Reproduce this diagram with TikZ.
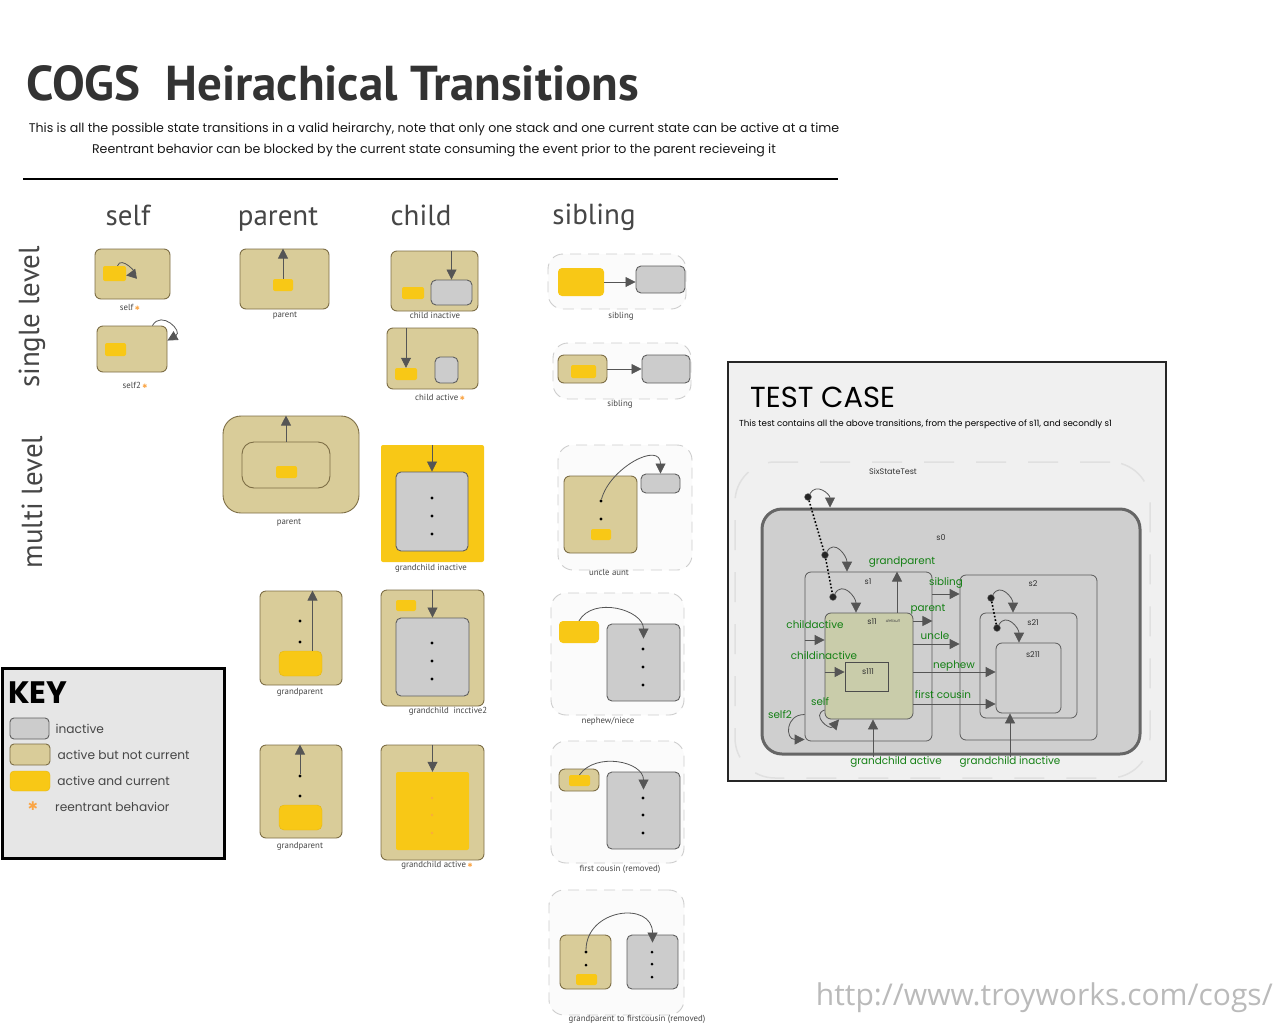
\documentclass[tikz,border=0pt]{standalone}
\usepackage{fontspec}
\setmainfont{PT Sans}
\newfontfamily\geo{Poppins}
\newfontfamily\symf{DejaVu Sans}
\newfontfamily\urlf{Open Sans}
\usepackage{tikz}
\usetikzlibrary{arrows.meta,positioning,fit,calc}
\definecolor{tanfill}{RGB}{217,204,153}
\definecolor{tanline}{RGB}{125,110,70}
\definecolor{gold}{RGB}{248,200,22}
\definecolor{goldline}{RGB}{228,182,20}
\definecolor{inact}{RGB}{204,204,204}
\definecolor{inactline}{RGB}{95,95,95}
\definecolor{arr}{RGB}{85,85,85}
\definecolor{dashc}{RGB}{205,205,205}
\definecolor{grpfill}{RGB}{251,251,251}
\definecolor{keybg}{RGB}{230,230,230}
\definecolor{testbg}{RGB}{240,240,240}
\definecolor{s0fill}{RGB}{207,207,207}
\definecolor{s11fill}{RGB}{201,204,170}
\definecolor{trgreen}{RGB}{20,128,20}
\definecolor{star}{RGB}{250,165,70}
\definecolor{textc}{RGB}{70,70,70}
\newcommand\sz[1]{\fontsize{#1}{#1}\selectfont}
\newcommand\rent{\,{\color{star}\symf\sz{6}✱}}

\begin{document}
\begin{tikzpicture}[x=1pt,y=-1pt,inner sep=0pt,
  tan/.style={draw=tanline,fill=tanfill,line width=0.9pt,rounded corners=6pt},
  cur/.style={fill=gold,rounded corners=2pt},
  ina/.style={draw=inactline,fill=inact,line width=0.9pt,rounded corners=5pt},
  grp/.style={draw=dashc,fill=grpfill,line width=0.9pt,dash pattern=on 11pt off 7pt,rounded corners=15pt},
  tr/.style={draw=arr,line width=0.8pt,-{Triangle[length=10pt,width=10pt]}},
  dot/.style={circle,fill=black,minimum size=3.2pt},
  lbl/.style={font=\sz{8.8},text=textc},
  hd/.style={font=\sz{29},text=textc,anchor=base},
  st/.style={draw=gray!70!black,line width=0.8pt,rounded corners=6pt},
  sl/.style={font=\geo\sz{8},text=black!80},
  gl/.style={font=\geo\sz{10.4},text=trgreen},
  ini/.style={circle,fill=black!85,draw=gray,minimum size=7pt},
  kt/.style={font=\geo\sz{12.2},text=textc,anchor=west}]
\useasboundingbox (0,0) rectangle (1286,1026);

% heading
\node[anchor=base west,font=\bfseries\sz{49},text=black!80] (title) at (26,100) {COGS\ \ Heirachical Transitions};
\node[font=\geo\sz{12.6},text=black!90] (sub1) at (434,129) {This is all the possible state transitions in a valid heirarchy, note that only one stack and one current state can be active at a time};
\node[font=\geo\sz{12.6},text=black!90] (sub2) at (434,150) {Reentrant behavior can be blocked by the current state consuming the event prior to the parent recieveing it};
\draw[line width=1.5pt] (23,179) -- (838,179);

\node[hd] (hself) at (128,225) {self};
\node[hd] (hpar) at (278,225) {parent};
\node[hd] (hchi) at (421,225) {child};
\node[hd] (hsib) at (594,224) {sibling};
\node[font=\sz{29},text=textc,rotate=90] (rsingle) at (32,317) {single level};
\node[font=\sz{29},text=textc,rotate=90] (rmulti) at (32,502) {multi level};

% self
\node[tan,fit={(95,249)(170,299)}] (slf) {};
\node[cur,fit={(103,266)(126,281)}] (slfc) {};
\draw[tr] ([xshift=3pt]slfc.north) to[out=70,in=10,looseness=2.2] ([yshift=-2pt]slfc.east);
\node[lbl] (cslf) at (130,307) {self\rent};
\node[tan,fit={(97,326)(167,372)}] (slf2) {};
\node[cur,fit={(105,343)(126,356)}] (slf2c) {};
\draw[tr] ([xshift=-15pt]slf2.north east) to[out=60,in=30,looseness=2.2] ([yshift=-15pt]slf2.north east);
\node[lbl] (cslf2) at (135,385) {self2\rent};

% parent
\node[tan,fit={(240,249)(329,309)}] (par) {};
\node[cur,fit={(273,279)(293,291)}] (parc) {};
\draw[tr] (parc.north) -- (parc.north |- par.north);
\node[lbl] (cpar) at (285,316) {parent};

% child
\node[tan,fit={(391,251)(478,311)}] (chi) {};
\node[cur,fit={(402,287)(424,299)}] (chic) {};
\node[ina,fit={(431,280)(472,305)}] (chig) {};
\draw[tr] (chig.north |- chi.north) -- (chig.north);
\node[lbl] (cchi) at (435,315) {child inactive};
\node[tan,fit={(387,328)(478,389)}] (cha) {};
\node[cur,fit={(395,368)(417,380)}] (chac) {};
\node[ina,fit={(435,357)(458,383)}] (chag) {};
\draw[tr] (chac.north |- cha.north) -- (chac.north);
\node[lbl] (ccha) at (440,397) {child active\rent};

% sibling
\node[grp,fit={(548,254)(686,309)}] (sib) {};
\node[cur,rounded corners=4pt,fit={(558,268)(604,296)}] (sibc) {};
\node[ina,fit={(636,266)(685,293)}] (sibg) {};
\draw[tr] (sibc.east) -- (sibc.east -| sibg.west);
\node[lbl] (csib) at (621,316) {sibling};
\node[grp,fit={(553,343)(691,399)}] (sib2) {};
\node[tan,fit={(558,355)(607,383)}] (sib2t) {};
\node[cur,fit={(571,365)(596,378)}] (sib2c) {};
\node[ina,fit={(642,355)(690,383)}] (sib2g) {};
\draw[tr] (sib2t) -- (sib2g);
\node[lbl] (csib2) at (620,404) {sibling};

% multi level parent
\node[tan,rounded corners=18pt,fit={(223,416)(359,513)}] (mpar) {};
\node[tan,rounded corners=12pt,fit={(242,442)(330,488)}] (mpari) {};
\node[cur,fit={(276,466)(297,478)}] (mparc) {};
\draw[tr] (mpari.north) -- (mpari.north |- mpar.north);
\node[lbl] (cmpar) at (289,523) {parent};

% grandchild inactive
\node[cur,fit={(381,445)(484,562)}] (gci) {};
\node[ina,fit={(396,472)(468,551)}] (gcig) {};
\draw[tr] (gcig.north |- gci.north) -- (gcig.north);
\foreach \y in {498,516,534} \fill (432,\y) circle (1.6pt);
\node[lbl] (cgci) at (431,568) {grandchild inactive};

% grandparent
\node[tan,fit={(260,591)(342,685)}] (gp1) {};
\node[cur,draw=goldline,rounded corners=5pt,fit={(279,651)(322,676)}] (gp1c) {};
\coordinate (gp1a) at ([xshift=12pt]gp1c.north);
\draw[tr] (gp1a) -- (gp1a |- gp1.north);
\foreach \y in {621,642} \fill (300,\y) circle (1.6pt);
\node[lbl] (cgp1) at (300,692) {grandparent};

% grandchild inactive 2
\node[tan,fit={(381,590)(484,706)}] (gci2) {};
\node[cur,fit={(396,600)(416,611)}] (gci2c) {};
\node[ina,fit={(396,618)(469,696)}] (gci2g) {};
\draw[tr] (gci2g.north |- gci2.north) -- (gci2g.north);
\foreach \y in {643,661,679} \fill (432,\y) circle (1.6pt);
\node[lbl] (cgci2) at (448,711) {grandchild\ \ incctive2};

% grandparent 2
\node[tan,fit={(260,745)(342,838)}] (gp2) {};
\node[cur,draw=goldline,rounded corners=5pt,fit={(279,805)(322,830)}] (gp2c) {};
\node[dot] (gp2d) at (300,776) {};
\fill (300,796) circle (1.6pt);
\draw[tr] (gp2d) -- (gp2d |- gp2.north);
\node[lbl] (cgp2) at (300,846) {grandparent};

% grandchild active
\node[tan,fit={(381,745)(484,860)}] (gca) {};
\node[cur,fit={(396,772)(469,850)}] (gcac) {};
\draw[tr] (gcac.north |- gca.north) -- (gcac.north);
\foreach \y in {798,815,833} \fill[star!80!gold] (432,\y) circle (1.4pt);
\node[lbl] (cgca) at (437,865) {grandchild active\rent};

% uncle aunt
\node[grp,fit={(558,445)(692,570)}] (ua) {};
\node[tan,fit={(564,476)(637,553)}] (uat) {};
\node[ina,fit={(641,474)(680,493)}] (uag) {};
\node[cur,fit={(591,529)(611,540)}] (uac) {};
\node[dot] (uad) at (601,501) {};
\fill (601,519) circle (1.6pt);
\draw[tr] (uad) to[out=75,in=90,looseness=1.3] (uag.north);
\node[lbl] (cua) at (609,572) {uncle aunt};

% nephew niece
\node[grp,fit={(551,593)(684,715)}] (nn) {};
\node[cur,rounded corners=4pt,fit={(559,621)(599,643)}] (nnc) {};
\node[ina,fit={(607,624)(680,701)}] (nng) {};
\draw[tr] (nnc.north) to[out=60,in=90,looseness=1.1] ([yshift=-15pt]nng.north);
\foreach \y in {649,667,685} \fill (643,\y) circle (1.6pt);
\node[lbl] (cnn) at (608,721) {nephew/niece};

% first cousin
\node[grp,fit={(551,741)(684,863)}] (fc) {};
\node[tan,fit={(559,769)(599,791)}] (fct) {};
\node[cur,fit={(569,775)(590,786)}] (fcc) {};
\node[ina,fit={(607,772)(680,849)}] (fcg) {};
\draw[tr] (fcc.north) to[out=55,in=90,looseness=1.1] ([yshift=-18pt]fcg.north);
\foreach \y in {798,815,833} \fill (643,\y) circle (1.6pt);
\node[lbl] (cfc) at (620,869) {first cousin (removed)};

% grandparent to first cousin
\node[grp,fit={(549,890)(684,1015)}] (gf) {};
\node[tan,fit={(560,935)(611,989)}] (gft) {};
\node[ina,fit={(627,935)(678,989)}] (gfg) {};
\node[cur,fit={(576,974)(597,985)}] (gfc) {};
\node[dot] (gfd) at (586,952) {};
\fill (586,965) circle (1.5pt);
\draw[tr] (gfd) to[out=90,in=90,looseness=1.6] ([yshift=-8pt]gfg.north);
\foreach \y in {952,964,977} \fill (652,\y) circle (1.5pt);
\node[lbl] (cgf) at (637,1019) {grandparent to firstcousin (removed)};

% key
\node[draw=black,line width=3pt,fill=keybg,fit={(2,668)(224,858)}] (key) {};
\node[anchor=base west,font=\geo\bfseries\sz{31}] (keyt) at (8,703) {KEY};
\node[ina,rounded corners=4pt,fit={(10,718)(49,739)}] (kin) {};
\node[tan,rounded corners=4pt,fit={(10,744)(50,765)}] (kan) {};
\node[cur,draw=goldline,rounded corners=4pt,fit={(10,771)(50,791)}] (kac) {};
\node[kt,right=6pt of kin] (tin) {inactive};
\node[kt,right=7pt of kan] (tan) {active but not current};
\node[kt,right=7pt of kac] (tac) {active and current};
\node[text=star,font=\symf\sz{12}] (kre) at (33,806) {✱};
\node[kt] (tre) at (55,807) {reentrant behavior};

% test case
\node[draw=black!85,line width=1.2pt,fill=testbg,fit={(728,362)(1166,781)}] (tc) {};
\node[anchor=base west,font=\geo\sz{29}] (tct) at (750,407) {TEST CASE};
\node[anchor=west,font=\geo\sz{8.7}] (tcs) at (739,424) {This test contains all the above transitions, from the perspective of s11, and secondly s1};
\node[draw=black!12,line width=1.5pt,dash pattern=on 30pt off 22pt,rounded corners=40pt,fit={(735,462)(1150,778)}] (sst) {};
\node[sl] (lsst) at (893,471) {SixStateTest};
\node[draw=black!60,line width=3pt,fill=s0fill,rounded corners=20pt,fit={(762,509)(1140,754)}] (s0) {};
\node[sl] (ls0) at (941,538) {s0};
\node[st,fit={(805,572)(932,741)}] (s1) {};
\node[sl] (ls1) at (868,582) {s1};
\node[st,fill=s11fill,fit={(825,613)(913,719)}] (s11) {};
\node[sl] (ls11) at (872,622) {s11};
\node[font=\geo\itshape\sz{4},text=black!70] (ldef) at (893,621) {default};
\node[draw=black!70,line width=0.8pt,fit={(845,662)(888,691)}] (s111) {};
\node[sl] (ls111) at (868,672) {s111};
\node[st,fit={(960,575)(1097,740)}] (s2) {};
\node[sl] (ls2) at (1033,584) {s2};
\node[st,fit={(980,613)(1077,718)}] (s21) {};
\node[sl] (ls21) at (1033,623) {s21};
\node[st,fit={(996,643)(1061,713)}] (s211) {};
\node[sl] (ls211) at (1033,655) {s211};

% initial states
\node[ini] (i0) at (808,497) {};
\node[ini] (i1) at (825,555) {};
\node[ini] (i2) at (833,597) {};
\node[ini] (i3) at (991,598) {};
\node[ini] (i4) at (997,628) {};
\draw[dotted,line width=1.6pt] (i0) -- (i1) -- (i2);
\draw[dotted,line width=1.6pt] (i3) -- (i4);
\draw[tr] (i0) to[out=60,in=90,looseness=1.4] ([xshift=-121pt]s0.north);
\draw[tr] (i1) to[out=60,in=90,looseness=1.4] ([xshift=-21.5pt]s1.north);
\draw[tr] (i2) to[out=60,in=90,looseness=1.4] ([xshift=-13pt]s11.north);
\draw[tr] (i3) to[out=60,in=90,looseness=1.4] ([xshift=-15.5pt]s21.north);
\draw[tr] (i4) to[out=60,in=90,looseness=1.4] ([xshift=-9.5pt]s211.north);

% transitions
\draw[tr] ([xshift=28pt]s11.north) coordinate (tgp) -- (tgp |- s1.north);
\draw[tr] ([yshift=62.5pt]s1.east) coordinate (tsib) -- (tsib -| s2.west);
\draw[tr] ([yshift=45pt]s11.east) coordinate (tpar) -- (tpar -| s1.east);
\draw[tr] ([yshift=22pt]s11.east) coordinate (tunc) -- (tunc -| s2.west);
\draw[tr] ([yshift=-6pt]s11.east) coordinate (tnep) -- (tnep -| s211.west);
\draw[tr] ([yshift=-38pt]s11.east) coordinate (tfc) -- (tfc -| s211.west);
\draw[tr] ([yshift=16.5pt]s1.west) coordinate (tca) -- (tca -| s11.west);
\draw[tr] ([yshift=-6pt]s11.west) coordinate (tci) -- (tci -| s111.west);
\draw[tr] ([yshift=-44pt]s11.west) to[out=200,in=230,looseness=2.2] ([xshift=-30pt]s11.south);
\draw[tr] ([yshift=-58pt]s1.west) to[out=180,in=180,looseness=2] ([yshift=-83pt]s1.west);
\coordinate (tga) at (873,757);
\coordinate (tgi) at (1010,757);
\draw[tr] (tga) -- (tga |- s11.south);
\draw[tr] (tgi) -- (tgi |- s211.south);

\node[gl] (lgp) at (902,562) {grandparent};
\node[gl] (lsib) at (946,583) {sibling};
\node[gl] (lpar) at (928,609) {parent};
\node[gl] (lunc) at (935,636) {uncle};
\node[gl] (lnep) at (954,666) {nephew};
\node[gl] (lfc) at (943,695) {first cousin};
\node[gl] (lca) at (815,625) {childactive};
\node[gl] (lci) at (824,656) {childinactive};
\node[gl] (lself) at (820,702) {self};
\node[gl] (lself2) at (780,715) {self2};
\node[gl] (lga) at (896,762) {grandchild active};
\node[gl] (lgi) at (1010,762) {grandchild inactive};

\node[anchor=base east,font=\urlf\sz{30},text=black!27] (url) at (1273,1005) {http://www.troyworks.com/cogs/};
\end{tikzpicture}
\end{document}
